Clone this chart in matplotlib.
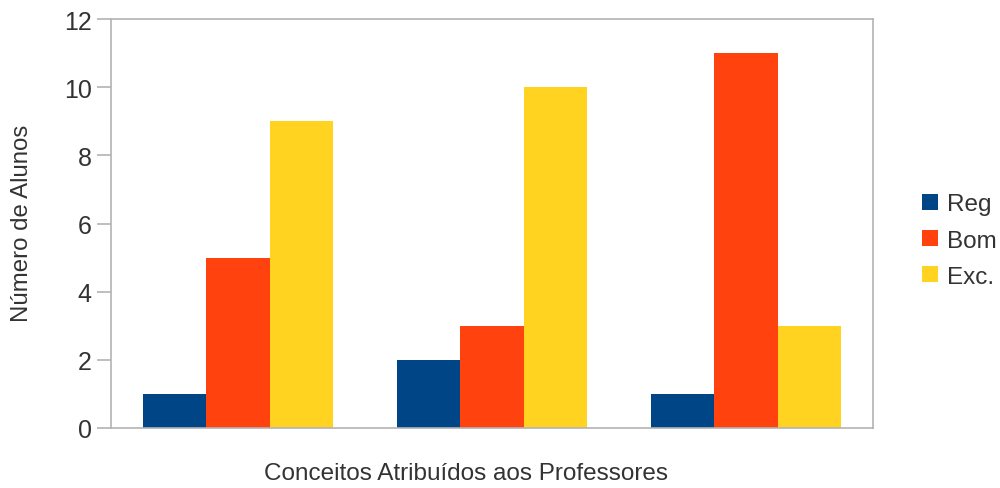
import numpy as np
import matplotlib
matplotlib.use("Agg")
from matplotlib import pyplot as plt

series = ["Reg", "Bom", "Exc."]
reg = [1, 2, 1]
bom = [5, 3, 11]
exc = [9, 10, 3]
colors = ["#004586", "#ff420e", "#ffd320"]

plt.rcParams['font.family'] = ['Liberation Sans', 'DejaVu Sans']
txt = "#333333"
edge = "#b3b3b3"

fig = plt.figure(figsize=(10, 4.89), dpi=100)
ax = fig.add_axes([0.111, 0.1227, 0.762, 0.836])

x = np.arange(3)
w = 0.25
for i, (vals, name) in enumerate(zip([reg, bom, exc], series)):
    ax.bar(x + (i - 1) * w, vals, width=w, color=colors[i], label=name)

ax.set_xlim(-0.5, 2.5)
ax.set_ylim(0, 12)
ax.set_yticks(range(0, 13, 2))
ax.set_xticks([])
for s in ax.spines.values():
    s.set_color(edge)
    s.set_linewidth(1.2)
ax.tick_params(axis='y', length=10, width=1.2, color=edge, labelsize=18,
               labelcolor=txt, pad=4)

# axis titles placed like the original (x title is centred on the figure, not the axes)
fig.text(0.022, 0.544, "Número de Alunos", rotation=90, fontsize=17.3,
         color=txt, ha="center", va="center")
fig.text(0.4655, 0.031, "Conceitos Atribuídos aos Professores", fontsize=17.5,
         color=txt, ha="center", va="center")

leg = fig.legend(loc="center left", bbox_to_anchor=(0.912, 0.506), frameon=False,
                 fontsize=17.5, handlelength=0.66, handleheight=0.66,
                 handletextpad=0.38, labelspacing=0.58, borderaxespad=0)
for t in leg.get_texts():
    t.set_color(txt)

fig.savefig("out.png", dpi=100)
